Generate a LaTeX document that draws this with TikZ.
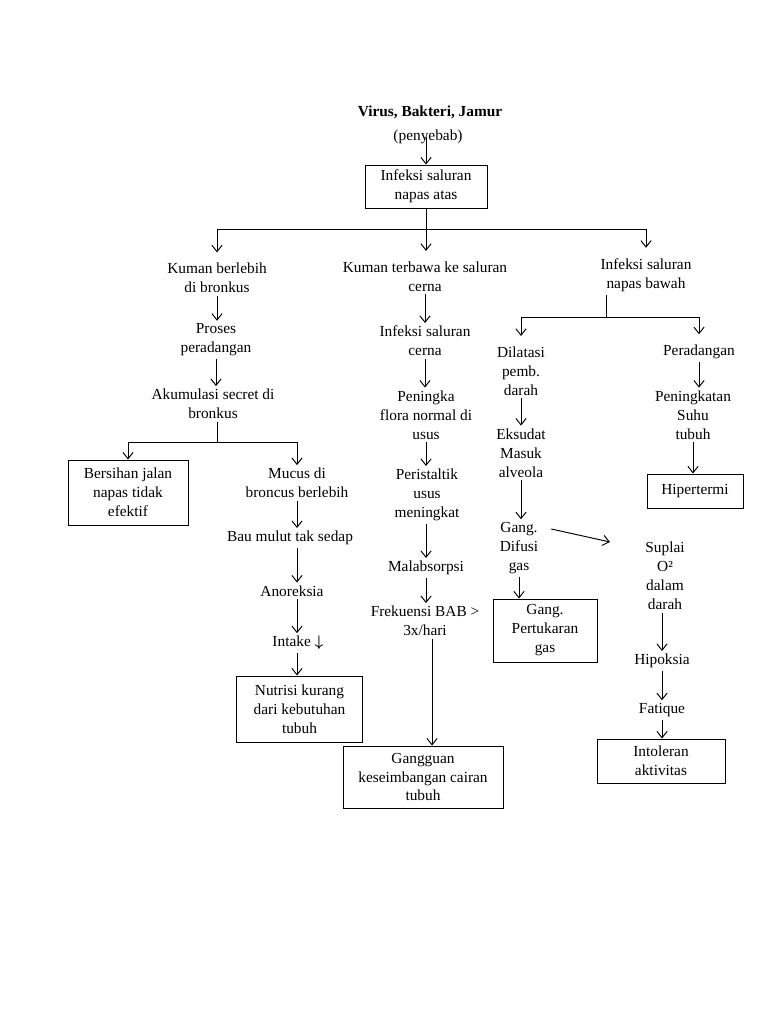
\documentclass[tikz,border=0pt]{standalone}
\usepackage{fontspec}
\setmainfont{Liberation Serif}
\usetikzlibrary{arrows.meta}

\begin{document}
\begin{tikzpicture}[x=0.78125pt, y=-0.78125pt, line width=0.75pt,
                    >={Straight Barb[length=5pt,width=8pt]},
                    txt/.style={align=center, inner sep=2pt, font=\fontsize{12}{14.8}\selectfont},
                    box/.style={txt, draw}]
        \useasboundingbox (0,0) rectangle (768,1024);
        % top
        \node[txt, font=\bfseries\fontsize{12}{14.8}\selectfont] (virus) at (430,112) {Virus, Bakteri, Jamur};
        \node[txt] (penyebab) at (428,137) {(penyebab)};
        \node[box, minimum width=95.3pt, minimum height=33.6pt] (atas) at (426,186.5) {Infeksi saluran\\napas atas};
        % left column
        \node[txt] (kuman) at (217,278) {Kuman berlebih\\di bronkus};
        \node[txt] (proses) at (216,340) {Proses\\peradangan};
        \node[txt] (akumulasi) at (213,404) {Akumulasi secret di\\bronkus};
        \node[box, minimum width=93.75pt, minimum height=50.8pt] (bersihan) at (128,492.5) {Bersihan jalan\\napas tidak\\efektif};
        \node[txt] (mucus) at (297,483) {Mucus di\\broncus berlebih};
        \node[txt] (bau) at (290,538) {Bau mulut tak sedap};
        \node[txt] (anoreksia) at (292,591) {Anoreksia};
        \node[txt] (intake) at (298,643) {Intake {\boldmath$\downarrow$}};
        \node[box, minimum width=97.7pt, minimum height=51.6pt] (nutrisi) at (299.5,709) {Nutrisi kurang\\dari kebutuhan\\tubuh};
        % middle column
        \node[txt] (terbawa) at (425,276.5) {Kuman terbawa ke saluran\\cerna};
        \node[txt] (cerna) at (425,341) {Infeksi saluran\\cerna};
        \node[txt] (flora) at (426,415) {Peningka\\flora normal di\\usus};
        \node[txt] (peristaltik) at (427,495) {Peristaltik\\usus\\meningkat};
        \node[txt] (malabsorpsi) at (426,568) {Malabsorpsi};
        \node[txt] (bab) at (425,621) {Frekuensi BAB >\\3x/hari};
        \node[box, minimum width=125pt, minimum height=48.4pt] (cairan) at (423,777) {Gangguan\\keseimbangan cairan\\tubuh};
        % right column
        \node[txt] (bawah) at (646,275) {Infeksi saluran\\napas bawah};
        \node[txt] (dilatasi) at (521,371) {Dilatasi\\pemb.\\darah};
        \node[txt] (eksudat) at (521,453) {Eksudat\\Masuk\\alveola};
        \node[txt] (difusi) at (519,548) {Gang.\\Difusi\\gas};
        \node[box, minimum width=81.25pt, minimum height=49.2pt] (pertukaran) at (545,630.5) {Gang.\\Pertukaran\\gas};
        \node[txt] (suplai) at (665,576) {Suplai\\O²\\dalam\\darah};
        \node[txt] (hipoksia) at (662,661) {Hipoksia};
        \node[txt] (fatique) at (662,710) {Fatique};
        \node[box, minimum width=100pt, minimum height=34.4pt] (intoleran) at (661,761) {Intoleran\\aktivitas};
        \node[txt] (peradangan) at (699,352) {Peradangan};
        \node[txt] (suhu) at (693,415) {Peningkatan\\Suhu\\tubuh};
        \node[box, minimum width=75pt, minimum height=26.6pt] (hipertermi) at (695,491) {Hipertermi};
        % branch points
        \coordinate (b0) at (426,229);
        \coordinate (bl) at (217,229);
        \coordinate (br) at (646,229);
        \coordinate (b1) at (217,442);
        \coordinate (b2) at (606,317);
        \coordinate (o2) at (610,542);
        % connectors
        \draw[->] (atas.north |- penyebab.center) -- (atas.north);
        \draw (atas.south) -- (b0);
        \draw (bl) -- (br);
        \draw[->, shorten >=6pt] (bl) -- (bl |- kuman.north);
        \draw[->, shorten >=6pt] (b0) -- (b0 |- terbawa.north);
        \draw[->, shorten >=6pt] (br) -- (br |- bawah.north);
        \draw[->] (kuman.south) -- (kuman.south |- proses.north);
        \draw[->] (proses.south) -- (proses.south |- akumulasi.north);
        \draw (b1 |- akumulasi.south) -- (b1);
        \draw[->] (b1) -| (bersihan.north);
        \draw[->] (b1) -| (mucus.north);
        \draw[->] (mucus.south) -- (mucus.south |- bau.north);
        \draw[->] (mucus.south |- bau.south) -- (mucus.south |- anoreksia.north);
        \draw[->] (mucus.south |- anoreksia.south) -- (mucus.south |- intake.north);
        \draw[->] (mucus.south |- intake.south) -- (mucus.south |- nutrisi.north);
        \draw[->] (terbawa.south) -- (terbawa.south |- cerna.north);
        \draw[->] (cerna.south) -- (cerna.south |- flora.north);
        \draw[->] (flora.south) -- (flora.south |- peristaltik.north);
        \draw[->] (flora.south |- peristaltik.south) -- (flora.south |- malabsorpsi.north);
        \draw[->] (flora.south |- malabsorpsi.south) -- (flora.south |- bab.north);
        \draw[->] ([xshift=5.5pt]bab.south) -- ([xshift=5.5pt]bab.south |- cairan.north);
        \draw (b2 |- bawah.south) -- (b2);
        \draw[->, shorten >=6pt] (b2) -| (dilatasi.north);
        \draw[->, shorten >=6pt] (b2) -| (peradangan.north);
        \draw[->] (dilatasi.south) -- (dilatasi.south |- eksudat.north);
        \draw[->] (dilatasi.south |- eksudat.south) -- (dilatasi.south |- difusi.north);
        \draw[->] (difusi.south) -- (difusi.south |- pertukaran.north);
        \draw[->] ([shift={(10,-19)}]difusi.east) -- (o2);
        \draw[->] (hipoksia.north |- suplai.south) -- (hipoksia.north);
        \draw[->] (hipoksia.south) -- (hipoksia.south |- fatique.north);
        \draw[->] (fatique.south) -- (fatique.south |- intoleran.north);
        \draw[->] (peradangan.south) -- (peradangan.south |- suhu.north);
        \draw[->] (suhu.south) -- (suhu.south |- hipertermi.north);
    \end{tikzpicture}
\end{document}
